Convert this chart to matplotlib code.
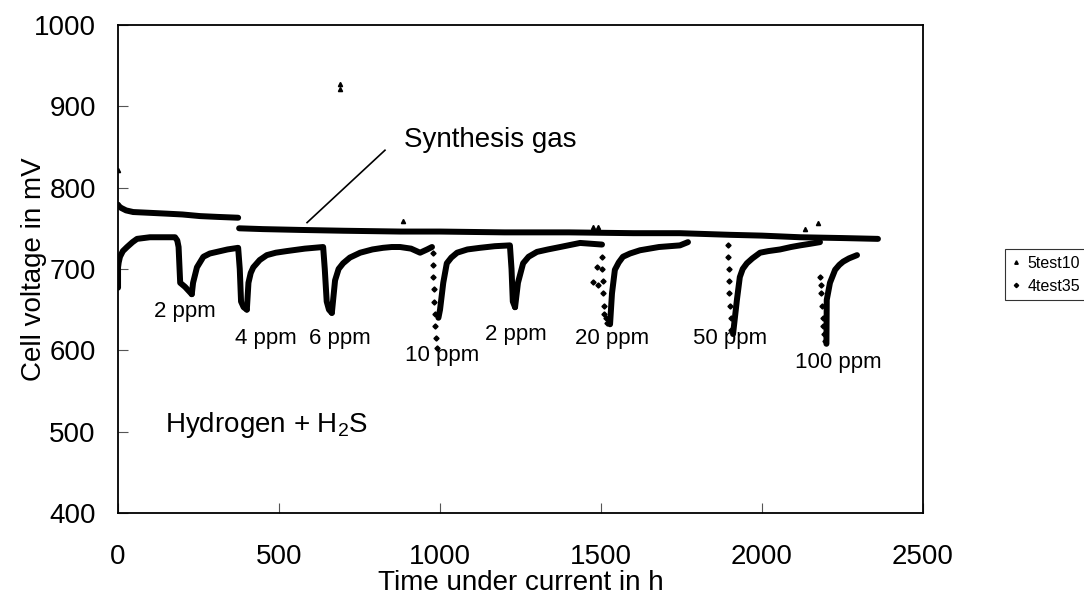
import matplotlib
matplotlib.use("Agg")
import matplotlib.pyplot as plt

plt.rcParams['font.family'] = ['Liberation Sans', 'DejaVu Sans']

# 5test10 - synthesis gas (upper curve)
syn_t1 = [0, 3, 10, 25, 47, 100, 152, 200, 255, 310, 373]
syn_v1 = [779, 777, 775, 772, 770, 769, 768, 767, 765, 764, 763]
syn_t2 = [376, 450, 565, 700, 876, 1000, 1200, 1400, 1600, 1745, 1900, 2000, 2118, 2250, 2360]
syn_v2 = [750, 749, 748, 747, 746, 746, 745, 745, 744, 744, 742, 741, 739, 738, 737]
syn_out_t = [0, 688, 690, 885, 1475, 1490, 2134, 2174]
syn_out_v = [822, 928, 921, 759, 752, 751, 749, 756]

# 4test35 - hydrogen + H2S (lower curve), one list per exposure cycle
h2_cycles = [
    ([0, 0, 2, 6, 15, 28, 45, 59, 99, 140, 177, 184, 188, 193, 208, 229],
     [677, 702, 708, 715, 722, 727, 733, 737, 739, 739, 739, 735, 727, 683, 678, 669]),
    ([229, 233, 245, 265, 285, 307, 340, 373, 378, 382, 390, 400],
     [669, 683, 702, 715, 719, 721, 724, 726, 700, 660, 653, 650]),
    ([400, 405, 412, 420, 440, 462, 490, 524, 580, 637, 642, 648, 655, 664],
     [650, 683, 695, 702, 711, 717, 720, 722, 725, 727, 700, 660, 650, 646]),
    ([664, 674, 685, 699, 720, 752, 790, 823, 850, 876, 910, 938, 960, 975],
     [646, 686, 700, 707, 714, 720, 724, 726, 727, 727, 725, 720, 724, 727]),
    ([995, 1000, 1010, 1021, 1035, 1053, 1085, 1124, 1170, 1217, 1222, 1226, 1233],
     [640, 650, 683, 707, 714, 720, 724, 726, 728, 729, 700, 660, 653]),
    ([1233, 1242, 1258, 1275, 1301, 1335, 1373, 1435, 1503],
     [653, 683, 707, 715, 721, 724, 727, 732, 730]),
    ([1528, 1534, 1543, 1555, 1568, 1590, 1621, 1680, 1745, 1770],
     [632, 670, 699, 708, 715, 719, 723, 727, 729, 733]),
    ([1910, 1922, 1931, 1940, 1953, 1970, 1994, 2020, 2056, 2090, 2118, 2150, 2180],
     [620, 662, 690, 700, 707, 713, 720, 722, 724, 727, 729, 731, 733]),
    ([2200, 2201, 2211, 2227, 2240, 2252, 2270, 2295],
     [608, 662, 683, 699, 705, 709, 713, 717]),
]
# isolated points along the steep drops
h2_drop_t = [978, 978, 979, 980, 981, 983, 985, 988, 990, 1503, 1504, 1505, 1506, 1508, 1510, 1515, 1520,
             1475, 1488, 1490, 1894, 1895, 1896, 1897, 1898, 1900, 1903, 1905, 2180, 2182, 2184, 2186,
             2188, 2190, 2193, 2196]
h2_drop_v = [720, 705, 690, 675, 660, 645, 630, 615, 603, 715, 700, 685, 670, 655, 645, 640, 634,
             684, 702, 680, 730, 715, 700, 685, 670, 655, 640, 625, 690, 680, 670, 655, 640, 630,
             620, 612]

ppm_labels = ["2 ppm", "4 ppm", "6 ppm", "10 ppm", "2 ppm", "20 ppm", "50 ppm", "100 ppm"]
ppm_t = [208, 460, 690, 1005, 1236, 1534, 1900, 2236]
ppm_v = [648, 615, 615, 594, 620, 615, 615, 585]

fig = plt.figure(figsize=(10.84, 6.03), dpi=100)
ax = fig.add_axes([0.1089, 0.1493, 0.7426, 0.8093])

# upper series
ax.plot(syn_t1, syn_v1, color='k', lw=4.3, solid_capstyle='round')
ax.plot(syn_t2, syn_v2, color='k', lw=4.3, solid_capstyle='round')
ax.plot(syn_out_t, syn_out_v, ls='none', marker='^', ms=3, color='k')

# lower series
for ct, cv in h2_cycles:
    ax.plot(ct, cv, color='k', lw=4.3, solid_capstyle='round', solid_joinstyle='round')
ax.plot(h2_drop_t, h2_drop_v, ls='none', marker='D', ms=2.6, color='k')

# legend handles
ax.plot([], [], ls='none', marker='^', ms=2.5, color='k', label='5test10')
ax.plot([], [], ls='none', marker='D', ms=2.2, color='k', label='4test35')
leg = ax.legend(loc='center left', bbox_to_anchor=(1.102, 0.488), fontsize=11.5,
                frameon=True, fancybox=False, handlelength=0.5, handletextpad=0.5,
                borderpad=0.4, labelspacing=0.5, borderaxespad=0)
leg.get_frame().set_edgecolor('k')
leg.get_frame().set_linewidth(0.8)

# annotations
ax.text(1155, 859, "Synthesis gas", fontsize=20, ha='center', va='center')
ax.plot([587, 829], [757, 846], color='k', lw=1.2)
for lab, tx, vy in zip(ppm_labels, ppm_t, ppm_v):
    ax.text(tx, vy, lab, fontsize=16, ha='center', va='center')
ax.text(146, 508, r"Hydrogen + H$_\mathregular{2}$S", fontsize=20, ha='left', va='center')

ax.set_xlim(0, 2500)
ax.set_ylim(400, 1000)
ax.set_xticks([0, 500, 1000, 1500, 2000, 2500])
ax.set_yticks([400, 500, 600, 700, 800, 900, 1000])
ax.tick_params(direction='in', length=7, width=0.8, color='#555555', labelsize=20)
ax.tick_params(axis='x', pad=22)
ax.tick_params(axis='y', pad=16)
for s in ax.spines.values():
    s.set_linewidth(1.3)
ax.set_xlabel("Time under current in h", fontsize=20, labelpad=0)
ax.set_ylabel("Cell voltage in mV", fontsize=20)
ax.yaxis.set_label_coords(-0.088, 0.5)

fig.savefig("out.png", dpi=100)
